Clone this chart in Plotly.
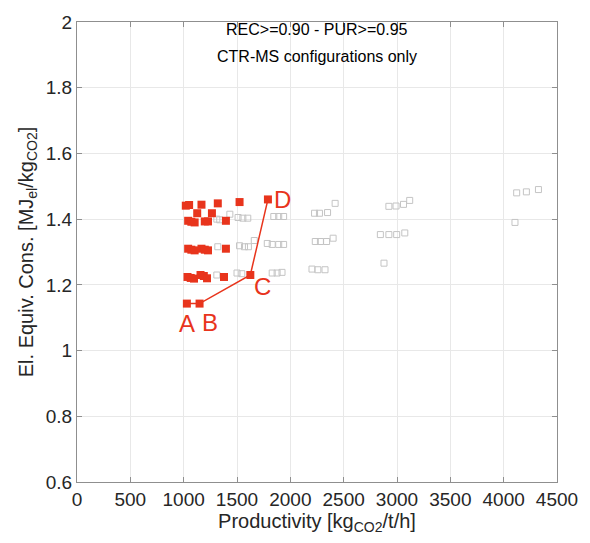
import plotly.graph_objects as go

# Gray (all configurations) points
gray_x = [1311, 1338, 1433, 1510, 1555, 1601, 1845, 1891, 1937, 2227, 2273, 2349, 2420,
          2924, 2991, 3061, 3119, 4122, 4213, 4326,
          1320, 1524, 1570, 1607, 1662, 1784, 1830, 1891, 1937, 2234, 2282, 2340, 2401,
          2844, 2924, 2997, 3073, 4106,
          1311, 1500, 1545, 1830, 1876, 1922, 2203, 2258, 2325, 2878]
gray_y = [1.400, 1.398, 1.415, 1.405, 1.403, 1.403, 1.408, 1.408, 1.408, 1.418, 1.418, 1.420, 1.448,
          1.439, 1.440, 1.445, 1.457, 1.480, 1.483, 1.490,
          1.316, 1.319, 1.316, 1.316, 1.335, 1.326, 1.323, 1.323, 1.323, 1.332, 1.332, 1.332, 1.342,
          1.353, 1.353, 1.353, 1.358, 1.390,
          1.230, 1.236, 1.234, 1.236, 1.236, 1.238, 1.248, 1.246, 1.246, 1.266]

# Red (CTR-MS) points
red_x = [1020, 1051, 1167, 1320, 1524,
         1127, 1265,
         1042, 1072, 1103, 1198, 1228, 1396,
         1042, 1072, 1103, 1167, 1198, 1228, 1396,
         1036, 1066, 1097, 1158, 1189, 1219, 1378]
red_y = [1.441, 1.443, 1.444, 1.448, 1.452,
         1.418, 1.418,
         1.395, 1.392, 1.390, 1.393, 1.393, 1.395,
         1.310, 1.307, 1.305, 1.310, 1.307, 1.305, 1.310,
         1.224, 1.221, 1.219, 1.230, 1.227, 1.220, 1.224]

# Highlighted path A-B-C-D
path_labels = ["A", "B", "C", "D"]
path_x = [1030, 1149, 1625, 1790]
path_y = [1.143, 1.143, 1.230, 1.460]
label_x = [1030, 1250, 1739, 1922]
label_y = [1.081, 1.086, 1.196, 1.460]

x_ticks = [0, 500, 1000, 1500, 2000, 2500, 3000, 3500, 4000, 4500]
y_ticks = [0.6, 0.8, 1.0, 1.2, 1.4, 1.6, 1.8, 2.0]
y_ticktext = ["0.6", "0.8", "1", "1.2", "1.4", "1.6", "1.8", "2"]

title_lines = ["REC>=0.90 - PUR>=0.95", "CTR-MS configurations only"]
title_y = [1.978, 1.894]

RED = "#e8341c"
FONT = "Liberation Sans, Arial, sans-serif"

fig = go.Figure()
fig.add_trace(go.Scatter(
    x=gray_x, y=gray_y, mode="markers",
    marker=dict(symbol="square-open", size=6, color="#c4c4c4", line=dict(width=1)),
    showlegend=False, hoverinfo="skip"))
fig.add_trace(go.Scatter(
    x=red_x, y=red_y, mode="markers",
    marker=dict(symbol="square", size=8, color=RED),
    showlegend=False))
fig.add_trace(go.Scatter(
    x=path_x, y=path_y, mode="lines+markers",
    line=dict(color=RED, width=1.5),
    marker=dict(symbol="square", size=8, color=RED),
    showlegend=False))

for t, lx, ly in zip(path_labels, label_x, label_y):
    fig.add_annotation(x=lx, y=ly, text=t, showarrow=False,
                       font=dict(family=FONT, size=24, color=RED))
for t, ty in zip(title_lines, title_y):
    fig.add_annotation(xref="paper", yref="y", x=0.5, y=ty, text=t,
                       showarrow=False, font=dict(family=FONT, size=16, color="#000000"))

axis_common = dict(
    showgrid=True, gridcolor="#e8e8e8", gridwidth=1,
    showline=True, linecolor="#8f8f8f", linewidth=1, mirror="ticks",
    ticks="inside", ticklen=5, tickcolor="#8f8f8f",
    zeroline=False,
    tickfont=dict(family=FONT, size=19, color="#262626"),
)

fig.update_layout(
    width=590, height=543,
    margin=dict(l=77, r=22, t=15, b=61),
    plot_bgcolor="white", paper_bgcolor="white",
    font=dict(family=FONT, color="#262626"),
    xaxis=dict(range=[0, 4500], tickvals=x_ticks,
               title=dict(text="Productivity [kg<sub>CO2</sub>/t/h]",
                          font=dict(family=FONT, size=20, color="#262626"), standoff=2),
               **axis_common),
    yaxis=dict(range=[0.6, 2.0], tickvals=y_ticks, ticktext=y_ticktext,
               title=dict(text="El. Equiv. Cons. [MJ<sub>el</sub>/kg<sub>CO2</sub>]",
                          font=dict(family=FONT, size=20, color="#262626"), standoff=6),
               **axis_common),
)

fig.write_html("out.html")
